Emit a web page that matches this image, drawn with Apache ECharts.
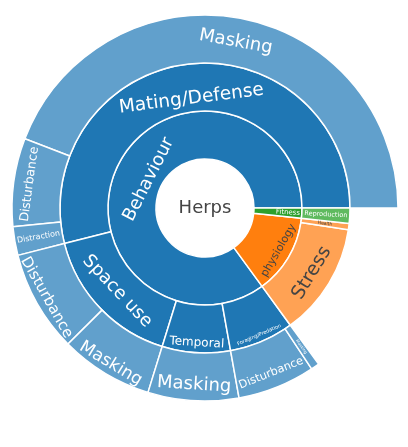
<!DOCTYPE html>
<html>
<head>
<meta charset="utf-8">
<script src="https://cdn.jsdelivr.net/npm/echarts@6/dist/echarts.min.js"></script>
<style>html,body{margin:0;padding:0;background:#fff;}#c{width:408px;height:447px;}</style>
</head>
<body>
<div id="c"></div>
<script>
// Values are shares (%) of the total
const rootName = 'Herps';
const topNames = ['Behaviour', 'physiology', 'Fitness'];

const behaviourGroups = ['Mating/Defense', 'Space use', 'Temporal', 'Foraging/Predation'];
const matingNames = ['Masking', 'Disturbance', 'Distraction'];
const matingValues = [44.2, 7.4, 2.4];
const spaceNames = ['Disturbance', 'Masking'];
const spaceValues = [8.5, 7.8];
const temporalNames = ['Masking'];
const temporalValues = [7.6];
const foragingNames = ['Disturbance', 'Masking'];
const foragingValues = [6.5, 0.7];

const physiologyGroups = ['Stress', 'Health'];
const physiologyValues = [12.6, 0.7];
const fitnessGroups = ['Reproduction'];
const fitnessValues = [1.7];

const FONT = 'DejaVu Sans';
const BLUE = '#1f77b4', BLUE_L = '#61a0cc';
const ORANGE = '#ff7f0e', ORANGE_L = '#ffa254';
const GREEN = '#2ca02c', GREEN_L = '#5fba5f';

// shift: >0 moves the text toward its own "down" side, <0 toward its "up" side
function lab(size, color, rotate, shift) {
  const l = { fontSize: size, color: color || '#fff', fontFamily: FONT };
  if (rotate) l.rotate = rotate;
  if (shift) {
    l.lineHeight = Math.abs(shift) * 2;
    l.formatter = shift > 0 ? '\n{b}' : '{b}\n';
  }
  return l;
}
function leaves(names, values, labels, color) {
  return names.map((n, i) => ({
    name: n, value: values[i],
    itemStyle: { color: color },
    label: labels[i]
  }));
}

const behaviour = {
  name: topNames[0], itemStyle: { color: BLUE }, label: lab(18, '#fff', null, 10),
  children: [
    { name: behaviourGroups[0], itemStyle: { color: BLUE }, label: lab(18.5, '#fff', null, 11),
      children: leaves(matingNames, matingValues, [
        lab(18), lab(12.5, '#fff', null, -8), lab(8, '#fff', 'radial')
      ], BLUE_L) },
    { name: behaviourGroups[1], itemStyle: { color: BLUE }, label: lab(18),
      children: leaves(spaceNames, spaceValues, [
        lab(15, '#fff', null, 13), lab(17, '#fff', null, 13)
      ], BLUE_L) },
    { name: behaviourGroups[2], itemStyle: { color: BLUE }, label: lab(12, '#fff', null, 14),
      children: leaves(temporalNames, temporalValues, [
        lab(18, '#fff', null, 8)
      ], BLUE_L) },
    { name: behaviourGroups[3], itemStyle: { color: BLUE }, label: lab(5, '#fff', null, 17),
      children: leaves(foragingNames, foragingValues, [
        lab(11.3, '#fff', null, 9), lab(4, '#fff', 'radial')
      ], BLUE_L) }
  ]
};
const physiology = {
  name: topNames[1], itemStyle: { color: ORANGE }, label: lab(11, '#444', null, 12),
  children: physiologyGroups.map((n, i) => ({
    name: n, value: physiologyValues[i], itemStyle: { color: ORANGE_L },
    label: i === 0 ? lab(19, '#444', null, 4) : lab(4.5, '#444', 'radial')
  }))
};
const fitnessLabel = lab(7, '#fff', 'radial');
fitnessLabel.formatter = '{p|}{b}';
fitnessLabel.rich = { p: { width: 20 } };
const fitness = {
  name: topNames[2], itemStyle: { color: GREEN }, label: fitnessLabel,
  children: fitnessGroups.map((n, i) => ({
    name: n, value: fitnessValues[i], itemStyle: { color: GREEN_L },
    label: lab(6.5, '#fff', 'radial')
  }))
};

const chart = echarts.init(document.getElementById('c'), null, { renderer: 'canvas' });
chart.setOption({
  animation: false,
  graphic: [{
    type: 'text', x: 205, y: 208, z: 100,
    style: { text: rootName, fill: '#444', font: '18px "DejaVu Sans"', align: 'center', verticalAlign: 'middle' }
  }],
  series: [{
    type: 'sunburst',
    center: [205, 208],
    startAngle: 0,
    clockwise: false,
    sort: null,
    nodeClick: false,
    data: [{
      name: rootName,
      itemStyle: { color: '#fff', borderWidth: 0 },
      label: { show: false },
      children: [behaviour, physiology, fitness]
    }],
    itemStyle: { borderColor: '#fff', borderWidth: 1.5 },
    label: { rotate: 'tangential', fontFamily: FONT },
    levels: [
      {},
      { r0: 0, r: 49 },
      { r0: 49, r: 97 },
      { r0: 97, r: 145 },
      { r0: 145, r: 193 }
    ]
  }]
});
</script>
</body>
</html>
